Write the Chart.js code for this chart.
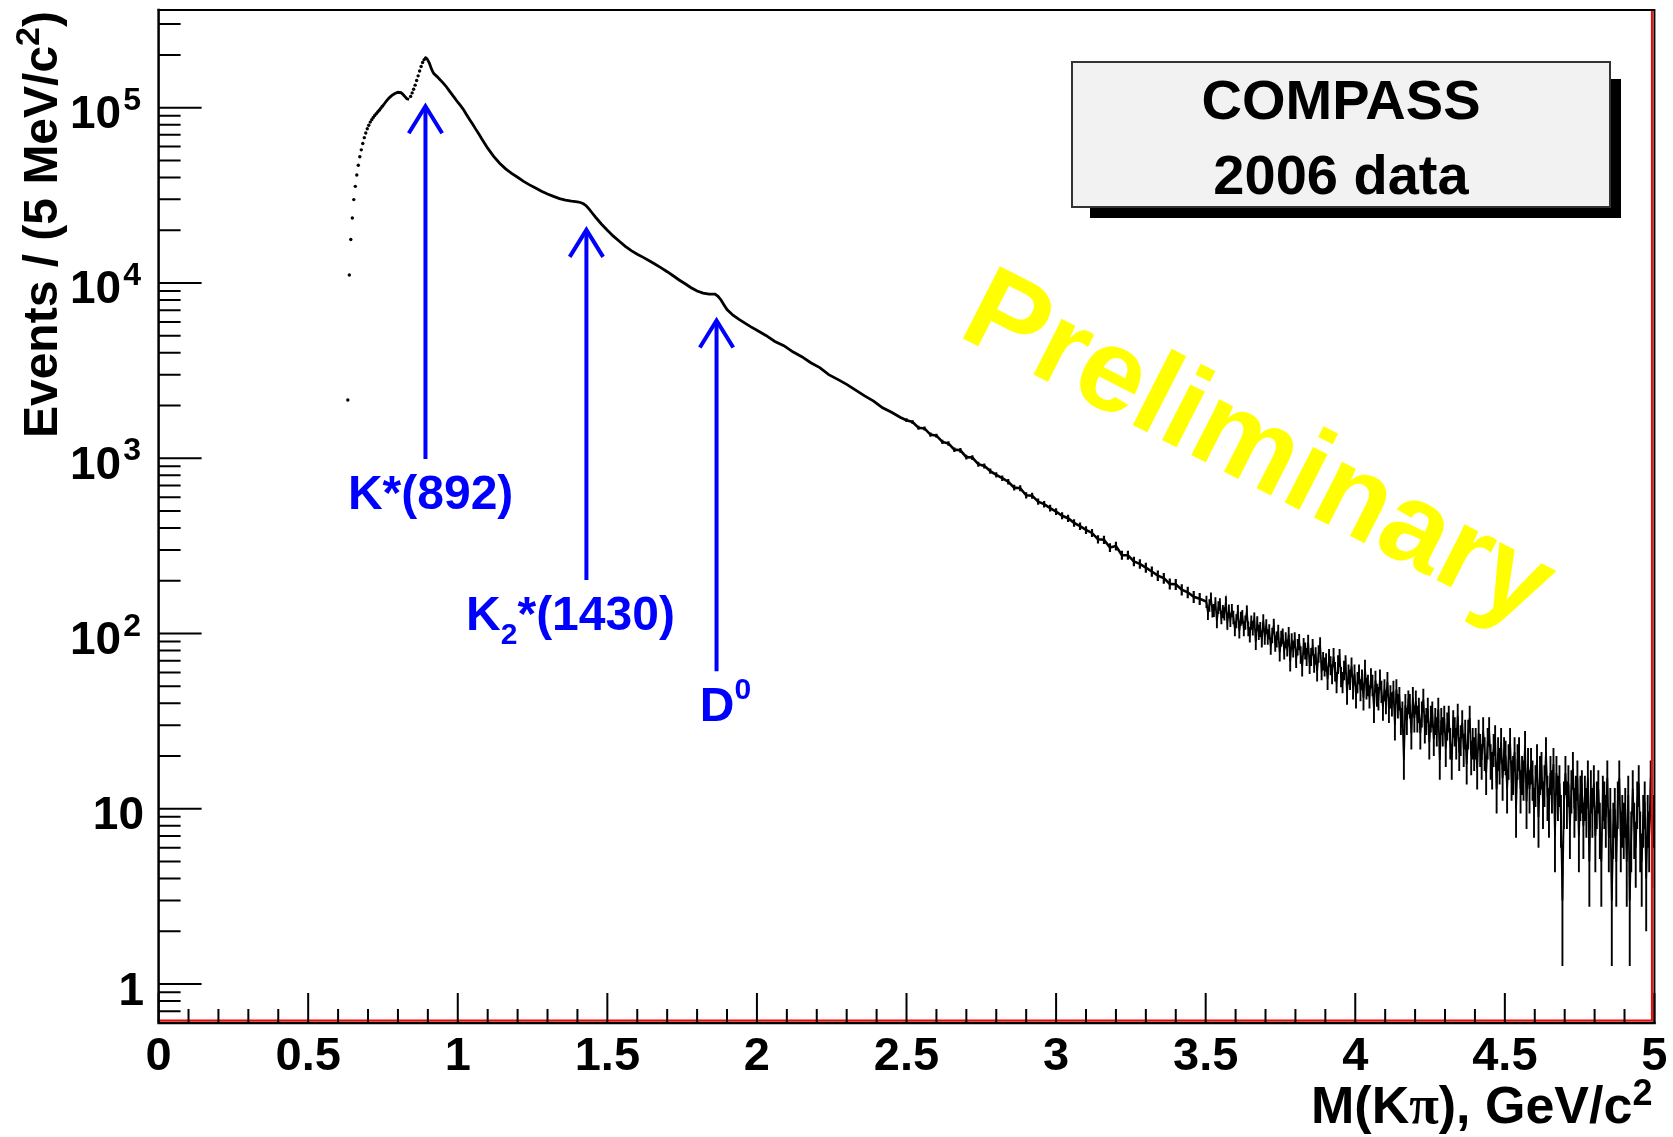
<!DOCTYPE html>
<html lang="en">
<head>
  <meta charset="UTF-8" />
  <title>COMPASS 2006 - M(Kπ) spectrum</title>
  <script src="https://cdn.jsdelivr.net/npm/chart.js"></script>
  <style>
    html, body { margin: 0; padding: 0; background: #fff; overflow: hidden; }
    canvas { display: block; }
  </style>
</head>
<body>
  <canvas id="chart" width="1673" height="1137"></canvas>

  <script>
    // smooth part of the spectrum, 0.63 - 2.5 GeV (events per 5 MeV bin)
    const lowMass = [
      0.6325, 0.6375, 0.6425, 0.6475, 0.6525, 0.6575, 0.6625, 0.6675, 0.6725, 0.6775, 0.6825, 0.6875,
      0.6925, 0.6975, 0.7025, 0.7075, 0.7125, 0.7175, 0.7225, 0.7275, 0.7325, 0.7375, 0.7425, 0.7475,
      0.7525, 0.76, 0.77, 0.78, 0.79, 0.80, 0.81, 0.815, 0.82, 0.825, 0.83, 0.8375,
      0.8425, 0.8475, 0.8525, 0.8575, 0.8625, 0.8675, 0.8725, 0.8775, 0.8825, 0.8875, 0.8925, 0.8975,
      0.905, 0.91, 0.915, 0.92,
      0.93, 0.94, 0.95, 0.96, 0.97, 0.98, 0.99, 1.00, 1.01, 1.02, 1.03, 1.04, 1.05, 1.06, 1.07, 1.08, 1.09, 1.10,
      1.12, 1.14, 1.16, 1.18, 1.20, 1.22, 1.24, 1.26, 1.28, 1.30, 1.32, 1.34, 1.36, 1.38, 1.40,
      1.41, 1.42, 1.43, 1.44, 1.45, 1.46,
      1.48, 1.50, 1.52, 1.54, 1.56, 1.58, 1.60, 1.62, 1.64, 1.66, 1.68, 1.70, 1.72, 1.74, 1.76, 1.78, 1.80, 1.82, 1.84,
      1.86, 1.87, 1.88, 1.89, 1.90,
      1.92, 1.94, 1.96, 1.98, 2.00,
      2.03, 2.06, 2.09, 2.12, 2.15, 2.18, 2.21, 2.24, 2.27, 2.30, 2.33, 2.36, 2.39, 2.42, 2.45, 2.48
    ];
    const lowEvents = [
      2150, 11100, 17700, 23500, 29900, 35600, 41300, 47000, 52500, 57500, 62500, 67500,
      71800, 75800, 79500, 82800, 85500, 88000, 90300, 92500, 94500, 96800, 99200, 101800,
      104000, 108500, 113500, 117500, 120500, 122500, 122000, 120000, 117500, 115000, 112500, 111500,
      116000, 121500, 127500, 134500, 143000, 152000, 162000, 172000, 181000, 188000, 192500, 190000,
      180000, 170000, 162000, 156500,
      151000, 145000, 139000, 133000, 126000, 119500, 113500, 107500, 102500, 97000, 91000, 85500, 80500, 75500, 71000, 66500, 62500, 58800,
      52800, 48200, 44800, 42200, 40100, 38000, 36300, 34800, 33400, 32200, 31200, 30300, 29700, 29300, 29000,
      28800, 28300, 27500, 26300, 25000, 23800,
      21700, 20000, 18500, 17300, 16200, 15300, 14600, 14000, 13400, 12800, 12200, 11600, 11000, 10400, 9900, 9400, 9000, 8750, 8650,
      8650, 8400, 8000, 7500, 7050,
      6550, 6200, 5900, 5620, 5380,
      5020, 4640, 4390, 4050, 3800, 3510, 3290, 3000, 2820, 2640, 2450, 2270, 2120, 1940, 1830, 1710
    ];

    // 2.50 - 3.48 GeV, every 4th bin
    const midStart = 2.50, midStep = 0.02;
    const midEvents = [
      1650, 1610, 1495, 1480, 1365, 1345, 1240, 1215, 1120, 1110,
      1015, 1010, 925, 905, 845, 805, 770, 735, 680, 675,
      615, 612, 566, 548, 520, 497, 470, 455, 428, 410,
      390, 375, 345, 343, 310, 316, 280, 280, 258, 250,
      238, 226, 214, 207, 192, 191, 178, 172, 162, 158
    ];

    // 3.50 - 5.00 GeV, every 5 MeV bin (one row = 0.1 GeV)
    const tailStart = 3.5025, tailStep = 0.005;
    const tailEvents = [
      152, 131, 145, 159, 135, 136, 149, 118, 141, 147, 124, 134, 130, 151, 116, 135, 120, 136, 124, 107,
      118, 134, 104, 122, 125, 107, 116, 133, 107, 99, 116, 108, 121, 90, 115, 102, 106, 93, 118, 96,
      110, 96, 103, 85, 98, 111, 88, 93, 102, 78, 94, 97, 80, 92, 83, 99, 69, 91, 82, 92,
      72, 84, 90, 76, 65, 85, 80, 74, 89, 67, 74, 84, 68, 75, 61, 77, 86, 62, 70, 65,
      69, 55, 73, 66, 59, 74, 61, 53, 67, 73, 57, 53, 62, 67, 46, 59, 55, 65, 49, 59,
      44, 53, 59, 48, 55, 43, 63, 49, 51, 44, 56, 51, 37, 54, 45, 43, 55, 47, 38, 48,
      41, 53, 37, 44, 40, 47, 30, 48, 39, 43, 32, 35, 19, 39, 32, 41, 39, 27, 43, 33,
      41, 33, 37, 27, 35, 42, 29, 32, 37, 24, 33, 35, 25, 32, 28, 37, 19, 32, 28, 33,
      22, 30, 33, 24, 19, 31, 28, 24, 34, 21, 25, 31, 22, 27, 18, 27, 33, 20, 24, 21,
      24, 17, 27, 22, 19, 28, 21, 16, 24, 28, 19, 17, 22, 25, 13, 21, 18, 24, 15, 21,
      20, 13, 19, 24, 15, 16, 21, 10, 19, 21, 13, 16, 15, 23, 11, 18, 13, 18, 15, 10,
      14, 19, 9, 16, 17, 11, 14, 21, 12, 10, 16, 13, 18, 7, 16, 12, 14, 9, 3, 11,
      16, 11, 14, 8, 13, 17, 10, 12, 15, 7, 12, 13, 8, 12, 10, 15, 5, 13, 10, 14,
      7, 11, 13, 8, 5, 12, 11, 9, 15, 7, 10, 3, 8, 10, 5, 11, 15, 7, 9, 8,
      10, 5, 12, 3, 7, 13, 8, 6, 11, 14, 7, 5, 9, 11, 4, 9, 7, 15, 6, 9
    ];

    // y axis decades and their labels (base, exponent)
    const yTickValues = [1, 10, 100, 1000, 10000, 100000];
    const yTickLabels = [["1", ""], ["10", ""], ["10", "2"], ["10", "3"], ["10", "4"], ["10", "5"]];

    // resonance markers: mass, arrow tip and arrow foot (events)
    const peakMass = [0.892, 1.430, 1.865];
    const arrowTop = [106000, 20900, 6350];
    const arrowFoot = [990, 202, 61];

    const FONT = "'Liberation Sans', Arial, Helvetica, sans-serif";
    const SERIF = "'Liberation Serif', 'Times New Roman', serif";

    const lowData = lowMass.map((m, i) => ({ x: m, y: lowEvents[i] }));
    const midData = midEvents.map((v, i) => ({ x: +(midStart + i * midStep).toFixed(3), y: v }));
    const tailData = tailEvents.map((v, i) => ({ x: +(tailStart + i * tailStep).toFixed(4), y: v }));

    // the steep rising parts show up as separate markers in the original
    function isDotted(m) { return m < 0.75 || (m > 0.84 && m < 0.895); }
    function hiddenSegment(a, b) { return b < 0.748 || (a >= 0.837 && b <= 0.893); }
    function segWidth(a) { return a < 2.49 ? 2.8 : (a < 3.49 ? 2.6 : 1.8); }

    function piecesWidth(c, pieces) {
      let w = 0;
      pieces.forEach(p => { c.font = p[1]; w += c.measureText(p[0]).width; });
      return w;
    }
    // pieces: [text, font, raise]
    function fillPieces(c, pieces, x0, y0) {
      let x = x0;
      pieces.forEach(p => {
        c.font = p[1];
        c.fillText(p[0], x, y0 - p[2]);
        x += c.measureText(p[0]).width;
      });
    }

    const rootStyle = {
      id: "rootStyle",
      beforeDatasetsDraw(chart) {
        const c = chart.ctx;
        c.save();
        c.translate(956, 335);
        c.rotate(27 * Math.PI / 180);
        c.fillStyle = "#ffff00";
        c.font = "bold 118px " + FONT;
        c.textAlign = "left";
        c.textBaseline = "alphabetic";
        c.fillText("Preliminary", 0, 0);
        c.restore();
      },
      afterDatasetsDraw(chart) {
        const c = chart.ctx;
        const a = chart.chartArea;
        const x = chart.scales.x, y = chart.scales.y;

        // error bars, sqrt(N)
        c.save();
        c.beginPath();
        c.rect(a.left, a.top, a.right - a.left, a.bottom - a.top);
        c.clip();
        c.strokeStyle = "#000";
        [[midData, 2.2], [tailData, 1.9]].forEach(([set, lw]) => {
          c.lineWidth = lw;
          c.beginPath();
          set.forEach(p => {
            const e = Math.sqrt(p.y);
            const px = x.getPixelForValue(p.x);
            const lo = p.y - e > 0 ? y.getPixelForValue(p.y - e) : a.bottom;
            c.moveTo(px, Math.min(lo, a.bottom));
            c.lineTo(px, y.getPixelForValue(p.y + e));
          });
          c.stroke();
        });
        c.restore();

        // frame
        c.save();
        c.lineCap = "square";
        c.strokeStyle = "#ff0000";
        c.lineWidth = 2;
        c.beginPath();
        c.moveTo(a.left, a.bottom - 2.5); c.lineTo(a.right - 2.5, a.bottom - 2.5); c.lineTo(a.right - 2.5, a.top + 1);
        c.stroke();
        c.strokeStyle = "#000";
        c.lineWidth = 2;
        c.beginPath();
        c.moveTo(a.left, a.top); c.lineTo(a.right, a.top); c.lineTo(a.right, a.bottom);
        c.stroke();
        c.lineWidth = 2.5;
        c.beginPath();
        c.moveTo(a.left, a.top); c.lineTo(a.left, a.bottom); c.lineTo(a.right, a.bottom);
        c.stroke();

        // inward ticks
        c.lineWidth = 2;
        c.lineCap = "butt";
        c.beginPath();
        for (let i = 0; i <= 50; i++) {
          const px = x.getPixelForValue(i / 10);
          const len = i % 5 === 0 ? 30 : 14;
          c.moveTo(px, a.bottom);
          c.lineTo(px, a.bottom - len);
        }
        for (let e = -1; e <= 5; e++) {
          for (let m = 1; m <= 9; m++) {
            const v = m * Math.pow(10, e);
            if (v < y.min || v > y.max) continue;
            const py = y.getPixelForValue(v);
            const len = m === 1 ? 43 : 22;
            c.moveTo(a.left, py);
            c.lineTo(a.left + len, py);
          }
        }
        c.stroke();

        // y tick labels with superscripts
        c.fillStyle = "#000";
        c.textBaseline = "alphabetic";
        c.textAlign = "right";
        yTickValues.forEach((v, i) => {
          const py = y.getPixelForValue(v);
          const [base, sup] = yTickLabels[i];
          let right = 144;
          if (sup) {
            c.font = "bold 32px " + FONT;
            c.fillText(sup, 141, py + 2);
            right = 141 - c.measureText(sup).width - 2;
          }
          c.font = "bold 46px " + FONT;
          c.fillText(base, right, py + 20.5);
        });

        // axis titles
        c.textAlign = "left";
        const xBig = "bold 52px " + FONT;
        const xTitle = [["M(K", xBig, 0], ["π", "bold 54px " + SERIF, 0], ["), GeV/c", xBig, 0], ["2", "bold 36px " + FONT, 18]];
        const xw = piecesWidth(c, xTitle);
        fillPieces(c, xTitle, a.right - 2 - xw, 1123);

        const yBig = "bold 48px " + FONT;
        const yTitle = [["Events / (5 MeV/c", yBig, 0], ["2", "bold 34px " + FONT, 18], [")", yBig, 0]];
        const yw = piecesWidth(c, yTitle);
        c.save();
        c.translate(57, 11 + yw);
        c.rotate(-Math.PI / 2);
        fillPieces(c, yTitle, 0, 0);
        c.restore();

        // resonance arrows
        c.strokeStyle = "#0000ff";
        c.fillStyle = "#0000ff";
        c.lineWidth = 4;
        c.lineJoin = "miter";
        peakMass.forEach((m, i) => {
          const px = x.getPixelForValue(m);
          const top = y.getPixelForValue(arrowTop[i]) + 3;
          const foot = y.getPixelForValue(arrowFoot[i]);
          c.beginPath();
          c.moveTo(px, foot); c.lineTo(px, top);
          c.stroke();
          c.beginPath();
          c.moveTo(px - 16.7, top + 27); c.lineTo(px, top); c.lineTo(px + 16.7, top + 27);
          c.stroke();
        });

        // resonance labels
        const base = i => y.getPixelForValue(arrowFoot[i]) + 50;
        const px = i => x.getPixelForValue(peakMass[i]);
        const lab = "bold 48px " + FONT;
        const sub = "bold 30px " + FONT;
        fillPieces(c, [["K*(892)", lab, 0]], px(0) - 77.5, base(0));
        fillPieces(c, [["K", lab, 0], ["2", sub, -14], ["*(1430)", lab, 0]], px(1) - 120.3, base(1));
        fillPieces(c, [["D", lab, 0], ["0", sub, 22]], px(2) - 16.7, base(2));

        // title box with shadow
        c.fillStyle = "#000";
        c.fillRect(1090, 79, 531, 139);
        c.fillStyle = "#f2f2f2";
        c.fillRect(1072, 62, 538, 145);
        c.strokeStyle = "#333";
        c.lineWidth = 2;
        c.strokeRect(1072, 62, 538, 145);
        c.fillStyle = "#000";
        c.font = "bold 56px " + FONT;
        c.textAlign = "center";
        c.fillText("COMPASS", 1341, 119);
        c.fillText("2006 data", 1341, 194);
        c.restore();
      }
    };

    const ctx = document.getElementById("chart").getContext("2d");
    window.chart = new Chart(ctx, {
      type: "line",
      data: {
        datasets: [
          {
            label: "M(Kπ) spectrum",
            data: lowData.concat(midData, tailData),
            borderColor: "#000",
            backgroundColor: "#000",
            borderWidth: 2.8,
            tension: 0,
            pointRadius: c => (c.raw && isDotted(c.raw.x)) ? 1.7 : 0,
            pointBorderWidth: 0,
            segment: {
              borderColor: c => hiddenSegment(c.p0.parsed.x, c.p1.parsed.x) ? "rgba(0,0,0,0)" : "#000",
              borderWidth: c => segWidth(c.p0.parsed.x)
            }
          }
        ]
      },
      options: {
        responsive: false,
        animation: false,
        events: [],
        layout: { padding: { top: 10, right: 15.4, left: 0, bottom: 0 } },
        plugins: { legend: { display: false }, tooltip: { enabled: false } },
        scales: {
          x: {
            type: "linear",
            min: 0,
            max: 5,
            grid: { display: false, drawTicks: false },
            border: { display: false },
            ticks: {
              stepSize: 0.5,
              autoSkip: false,
              maxRotation: 0,
              padding: 5.5,
              color: "#000",
              font: { family: FONT, weight: "bold", size: 47 },
              callback: v => String(Math.round(v * 10) / 10)
            },
            title: { display: false },
            afterFit: s => { s.height = 114; }
          },
          y: {
            type: "logarithmic",
            min: 0.645,
            max: 361000,
            grid: { display: false, drawTicks: false },
            border: { display: false },
            ticks: { display: false },
            title: { display: false },
            afterFit: s => { s.width = 158.6; }
          }
        }
      },
      plugins: [rootStyle]
    });
  </script>
</body>
</html>
